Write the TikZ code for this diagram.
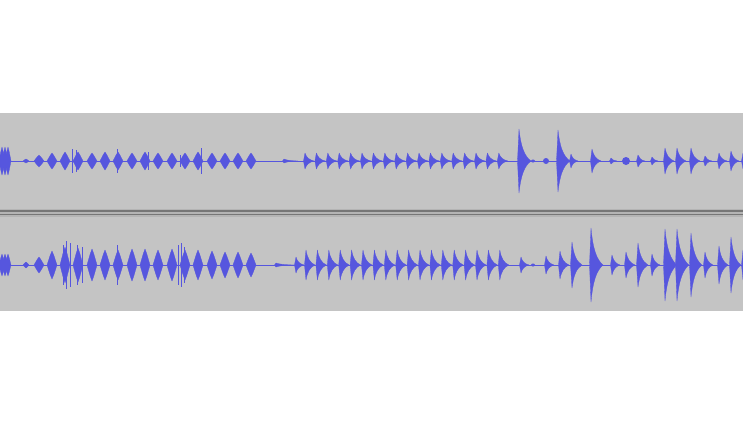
\documentclass[tikz,border=0pt]{standalone}
\definecolor{wavblue}{RGB}{86,86,222}
\definecolor{panelgray}{RGB}{196,196,196}
\definecolor{rulegray}{RGB}{118,118,118}
\tikzset{wave/.style={fill=wavblue,draw=wavblue,line width=0.3pt,line join=round}}
\newcommand{\pulse}[4]{%
 \filldraw[wave] ({#1-#4},{#2}) -- ({#1-0.35*#4},{#2-0.7*#3}) -- ({#1},{#2-#3}) -- ({#1+0.35*#4},{#2-0.7*#3}) -- ({#1+#4},{#2}) -- ({#1+0.35*#4},{#2+0.7*#3}) -- ({#1},{#2+#3}) -- ({#1-0.35*#4},{#2+0.7*#3}) -- cycle;%
}
\newcommand{\chirp}[4]{%
 \filldraw[wave] ({#1-1.5},{#2}) -- ({#1},{#2-#3}) .. controls ({#1+0.15*#4},{#2-0.45*#3}) and ({#1+0.45*#4},{#2-0.15*#3}) .. ({#1+#4},{#2}) .. controls ({#1+0.45*#4},{#2+0.15*#3}) and ({#1+0.15*#4},{#2+0.45*#3}) .. ({#1},{#2+#3}) -- cycle;%
}
\newcommand{\stick}[3]{%
 \draw[wavblue,line width=0.5pt] ({#1},{#2-#3}) -- ({#1},{#2+#3});%
}

\begin{document}
\begin{tikzpicture}[x=1pt,y=-1pt]
  \useasboundingbox (0,0) rectangle (743,426);
  \fill[white] (0,0) rectangle (743,426);
  \fill[panelgray] (0,113) rectangle (743,311);
  % divider between the two tracks
  \fill[rulegray!55] (0,209) rectangle (743,217);
  \draw[rulegray,line width=1.2pt] (0,211) -- (743,211);
  \draw[rulegray,line width=1.2pt] (0,214.5) -- (743,214.5);
  \begin{scope}
  \clip (0,113) rectangle (743,311);
  % upper track
  \draw[wavblue,line width=0.6pt] (0,161) -- (743,161);
  \foreach \x in {2,5,8} \pulse{\x}{161}{14}{3};
  \pulse{26}{161}{2}{3}
  \foreach \x/\a in {39/6,52/8,65/9,78/9,92/8,105/9,118/9,132/8,145/9,158/8,172/8,185/8,198/9,212/8,225/8,238/8,251/8}
    \pulse{\x}{161}{\a}{5};
  \foreach \x/\a in {72/12,76/11,117/12,148/9,180/6,201/13}
    \stick{\x}{161}{\a};
  \chirp{284}{161}{2}{14}
  \foreach \i in {0,...,17}
    \chirp{305+11.4*\i}{161}{8}{9};
  \foreach \x/\a/\t in {519/32/12,558/31/12,571/7/7,592/12/9,611/3/6,638/6/7,652/4/6,665/13/9,677/13/9,691/13/9,705/5/7,719/8/8,731/10/8,743/8/8}
    \chirp{\x}{161}{\a}{\t};
  \fill[wavblue] (533,161) ellipse (2 and 1.5);
  \fill[wavblue] (546,161) ellipse (3 and 3);
  \fill[wavblue] (626,161) ellipse (4 and 4);
  % lower track
  \draw[wavblue,line width=0.6pt] (0,265) -- (743,265);
  \foreach \x in {2,5,8} \pulse{\x}{265}{11}{3};
  \pulse{26}{265}{3}{3}
  \foreach \x/\a in {39/8,52/14,65/18,78/17,92/16,105/15,118/15,132/16,145/16,158/15,172/16,185/15,198/15,212/14,225/13,238/13,251/12}
    \pulse{\x}{265}{\a}{5};
  \foreach \x/\a in {63/20,66/24,70/22,77/20,82/18,117/20,178/20,181/22,184/18}
    \stick{\x}{265}{\a};
  \chirp{276}{265}{2}{18}
  \chirp{296}{265}{8}{8}
  \foreach \i in {0,...,17}
    \chirp{306+11.4*\i}{265}{15}{9};
  \foreach \x/\a/\t in {521/8/8,546/9/8,560/14/9,572/23/10,591/37/12,612/10/8,626/13/9,638/22/10,652/11/8,665/36/12,677/36/12,691/32/11,705/13/8,719/19/9,731/28/10,743/15/8}
    \chirp{\x}{265}{\a}{\t};
  \fill[wavblue] (533,265) ellipse (2 and 1.5);
  \end{scope}
\end{tikzpicture}
\end{document}
